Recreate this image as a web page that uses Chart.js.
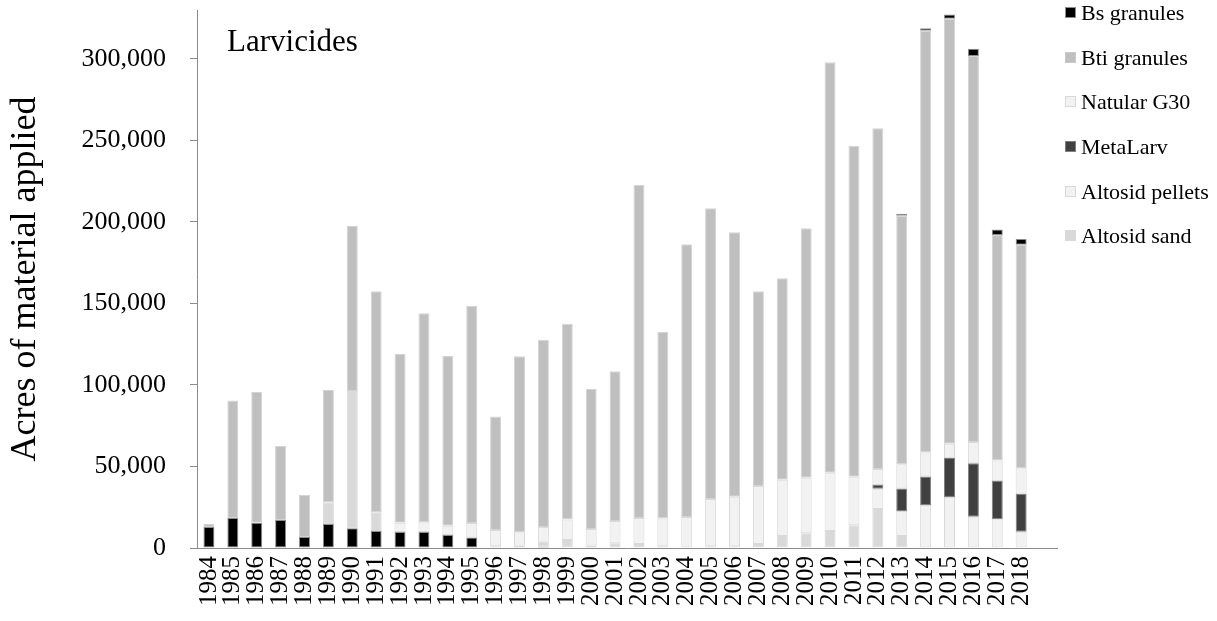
<!DOCTYPE html>
<html>
<head>
<meta charset="utf-8">
<script src="https://cdn.jsdelivr.net/npm/chart.js@4/dist/chart.umd.min.js"></script>
<style>
  html, body { margin: 0; padding: 0; background: #fff; }
  #wrap { position: relative; width: 1217px; height: 621px; }
  #legend { position: absolute; left: 1065px; top: 0; font-family: "Liberation Serif", "Times New Roman", serif; font-size: 22px; color: #000; }
  .item { position: absolute; left: 0; height: 22px; line-height: 22px; white-space: nowrap; }
  .box { position: absolute; left: 0; top: 5px; width: 11px; height: 11px; box-sizing: border-box; border: 1px solid #bfbfbf; }
  .txt { position: absolute; left: 16px; top: 0; }
</style>
</head>
<body>
<div id="wrap">
  <canvas id="chart" width="1217" height="621"></canvas>
  <div id="legend"></div>
</div>
<script>
const years = ['1984','1985','1986','1987','1988','1989','1990','1991','1992','1993',
  '1994','1995','1996','1997','1998','1999','2000','2001','2002','2003','2004','2005',
  '2006','2007','2008','2009','2010','2011','2012','2013','2014','2015','2016','2017','2018', ''];

// bottom black segment in the early years (not listed in the legend)
const earlyBlack = [12900,18400,15500,17200,6700,14700,12100,10400,9800,9800,
  8000,6500,0,0,800,0,0,0,0,0,0,0,
  0,0,0,0,0,0,0,0,0,0,0,0,0];
const altosidSand = [0,0,0,0,0,13300,84200,11600,0,0,
  0,0,1000,1500,3000,4900,1500,2900,2500,1000,800,1000,
  1000,2500,7400,9000,10400,13900,23900,7400,0,0,0,0,0];
const altosidPellets = [0,0,0,0,0,0,0,0,5700,6000,
  5700,8800,10000,8100,9100,12600,10200,13700,15900,17100,18200,29000,
  30500,35500,34400,34100,35800,29800,12400,15300,26300,31300,19100,17600,10000];
const metaLarv = [0,0,0,0,0,0,0,0,0,0,
  0,0,0,0,0,0,0,0,0,0,0,0,
  0,0,0,0,0,0,2300,13800,17600,23900,32900,23500,23200];
const natularG30 = [0,0,0,0,0,0,0,0,0,0,
  0,0,0,0,0,0,0,0,0,0,0,0,
  0,0,0,0,0,0,9900,14800,14900,8800,13000,12500,15700];
const btiGranules = [1800,72000,80200,45400,26000,68900,101200,135500,103500,128200,
  104100,133300,69600,108000,114900,120100,85800,91800,204300,114400,167300,178400,
  162200,119500,123700,153000,251800,203100,209000,152500,258500,260700,236800,138400,137100];
const bsGranules = [0,0,0,0,0,0,0,0,0,0,
  0,0,0,0,0,0,0,0,0,0,0,0,
  0,0,0,0,0,0,0,1200,1500,2500,4500,3300,3600];

const yTicks = [0, 50000, 100000, 150000, 200000, 250000, 300000];

const serif = '"Liberation Serif", "Times New Roman", serif';

function series(label, data, fill, border) {
    return {
        label: label,
        data: data,
        backgroundColor: fill,
        borderColor: border,
        borderWidth: 1,
        borderSkipped: false,
        barPercentage: 0.46,
        categoryPercentage: 1.0
    };
}

const datasets = [
    series('', earlyBlack, '#000000', '#8c8c8c'),
    series('Altosid sand', altosidSand, '#d9d9d9', '#d9d9d9'),
    series('Altosid pellets', altosidPellets, '#f2f2f2', '#d9d9d9'),
    series('MetaLarv', metaLarv, '#404040', '#808080'),
    series('Natular G30', natularG30, '#f2f2f2', '#d9d9d9'),
    series('Bti granules', btiGranules, '#bfbfbf', '#d4d4d4'),
    series('Bs granules', bsGranules, '#000000', '#8c8c8c')
];

// "Larvicides" label inside the plot
const panelLabel = {
    id: 'panelLabel',
    afterDraw(chart) {
        const ctx = chart.ctx;
        ctx.save();
        ctx.font = '31px ' + serif;
        ctx.fillStyle = '#000';
        ctx.textBaseline = 'alphabetic';
        ctx.fillText('Larvicides', chart.chartArea.left + 30, 51);
        ctx.restore();
    }
};

new Chart(document.getElementById('chart'), {
    type: 'bar',
    data: { labels: years, datasets: datasets },
    options: {
        responsive: false,
        animation: false,
        layout: { padding: { top: 10, right: 160, bottom: 0, left: 0 } },
        plugins: {
            legend: { display: false },
            tooltip: { enabled: false }
        },
        scales: {
            x: {
                stacked: true,
                grid: { display: false, drawTicks: false },
                border: { color: '#8c8c8c', width: 1 },
                ticks: {
                    autoSkip: false,
                    minRotation: 90,
                    maxRotation: 90,
                    padding: 8,
                    color: '#000',
                    font: { family: serif, size: 25 }
                },
                afterFit(scale) {
                    scale.height = 73;
                    scale.paddingLeft = 0;
                    scale.paddingRight = 0;
                }
            },
            y: {
                stacked: true,
                min: 0,
                max: 330000,
                grid: { drawOnChartArea: false, drawTicks: true, tickLength: 7, color: '#8c8c8c' },
                border: { color: '#8c8c8c', width: 1 },
                afterBuildTicks(scale) {
                    scale.ticks = yTicks.map(v => ({ value: v }));
                },
                ticks: {
                    padding: 24,
                    color: '#000',
                    font: { family: serif, size: 26 },
                    callback: v => v.toLocaleString('en-US')
                },
                title: {
                    display: true,
                    text: 'Acres of material applied',
                    color: '#000',
                    font: { family: serif, size: 36, lineHeight: 1.1 },
                    padding: { top: 6, bottom: 0 }
                },
                afterFit(scale) {
                    scale.width = 197;
                    scale.paddingTop = 0;
                    scale.paddingBottom = 0;
                }
            }
        }
    },
    plugins: [panelLabel]
});

// legend, top item is the top of the stack
const legendItems = [
    { label: 'Bs granules', fill: '#000000', border: '#8c8c8c', y: 13 },
    { label: 'Bti granules', fill: '#bfbfbf', border: '#c8c8c8', y: 58 },
    { label: 'Natular G30', fill: '#f2f2f2', border: '#d9d9d9', y: 102 },
    { label: 'MetaLarv', fill: '#404040', border: '#808080', y: 147 },
    { label: 'Altosid pellets', fill: '#f2f2f2', border: '#d9d9d9', y: 192 },
    { label: 'Altosid sand', fill: '#d9d9d9', border: '#d9d9d9', y: 236 }
];
const legendEl = document.getElementById('legend');
legendItems.forEach(it => {
    const row = document.createElement('div');
    row.className = 'item';
    row.style.top = (it.y - 11) + 'px';
    const box = document.createElement('span');
    box.className = 'box';
    box.style.background = it.fill;
    box.style.borderColor = it.border;
    const txt = document.createElement('span');
    txt.className = 'txt';
    txt.textContent = it.label;
    row.appendChild(box);
    row.appendChild(txt);
    legendEl.appendChild(row);
});
</script>
</body>
</html>
